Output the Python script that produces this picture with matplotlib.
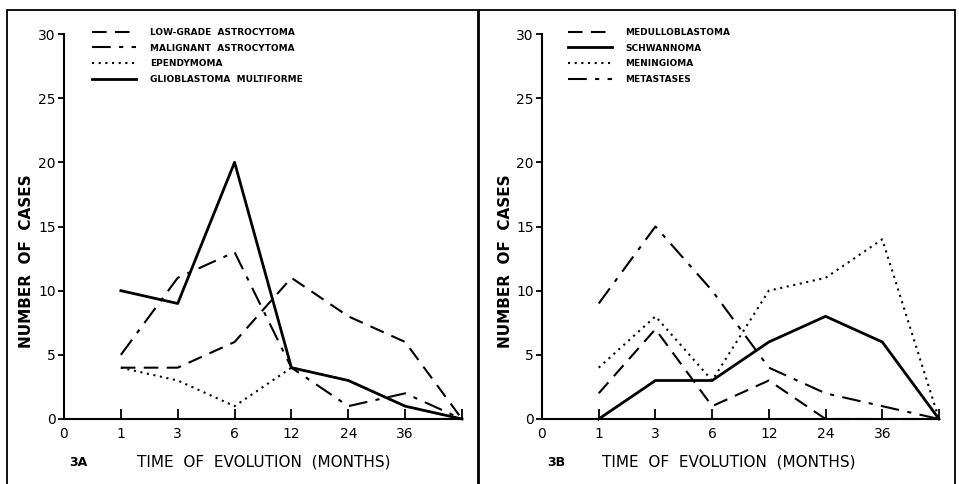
import matplotlib.pyplot as plt
from matplotlib.patches import Rectangle

# category positions on the x axis (last one unlabeled)
x_labels = ["0", "1", "3", "6", "12", "24", "36", ""]
x_pos = [1, 2, 3, 4, 5, 6, 7]

# panel 3A
low_grade = [4, 4, 6, 11, 8, 6, 0]
malignant = [5, 11, 13, 4, 1, 2, 0]
ependymoma = [4, 3, 1, 4, 3, 1, 0]
glioblastoma = [10, 9, 20, 4, 3, 1, 0]

# panel 3B
medulloblastoma = [2, 7, 1, 3, 0, 0, 0]
schwannoma = [0, 3, 3, 6, 8, 6, 0]
meningioma = [4, 8, 3, 10, 11, 14, 0]
metastases = [9, 15, 10, 4, 2, 1, 0]

W, H = 959, 484
fig = plt.figure(figsize=(W / 100, H / 100), dpi=100)
plt.rcParams["font.family"] = "DejaVu Sans"

DASH = (0, (7, 4))
DASHDOT = (0, (9, 4, 2, 4))
DOT = (0, (1, 2.2))


def px(x0, y0, x1, y1):
    return [x0 / W, 1 - y1 / H, (x1 - x0) / W, (y1 - y0) / H]


def panel(ax, series, tag, xlab_x, leg_x):
    for ys, ls, lw, lab in series:
        ax.plot(x_pos, ys, color="black", ls=ls, lw=lw, label=lab, clip_on=False)
    ax.set_xlim(0, 7)
    ax.set_ylim(0, 30)
    for s in ["top", "right"]:
        ax.spines[s].set_visible(False)
    for s in ["left", "bottom"]:
        ax.spines[s].set_linewidth(1.5)
    ax.set_xticks(range(8))
    ax.set_xticklabels(x_labels, fontsize=10)
    ax.set_yticks(range(0, 31, 5))
    ax.tick_params(axis="x", direction="in", length=7, width=1.3, pad=6)
    ax.tick_params(axis="y", direction="out", length=4, width=1.3, pad=2, labelsize=10)
    ax.patch.set_alpha(0)
    ax.legend(loc="upper left", bbox_to_anchor=(leg_x, 1.016), frameon=False,
              prop={"size": 6.5, "weight": "bold"}, handlelength=4.9,
              handletextpad=1.5, labelspacing=0.75, borderpad=0,
              borderaxespad=0)
    bb = ax.get_position()
    fig.text(xlab_x, 1 - 462 / H, "TIME  OF  EVOLUTION  (MONTHS)", fontsize=11,
             ha="center", va="center")
    fig.text(bb.x0 + 14 / W, 1 - 462 / H, tag, fontsize=9, weight="bold",
             ha="center", va="center")
    fig.text(bb.x0 - 37 / W, 1 - 261 / H, "NUMBER  OF  CASES", fontsize=11,
             weight="bold", rotation=90, ha="center", va="center")


ax1 = fig.add_axes(px(64, 34, 462, 419))
panel(ax1, [
    (low_grade, DASH, 1.5, "LOW-GRADE  ASTROCYTOMA"),
    (malignant, DASHDOT, 1.5, "MALIGNANT  ASTROCYTOMA"),
    (ependymoma, DOT, 1.5, "EPENDYMOMA"),
    (glioblastoma, "-", 2.0, "GLIOBLASTOMA  MULTIFORME"),
], "3A", 264 / W, 0.07)

ax2 = fig.add_axes(px(542, 34, 939, 419))
panel(ax2, [
    (medulloblastoma, DASH, 1.5, "MEDULLOBLASTOMA"),
    (schwannoma, "-", 2.0, "SCHWANNOMA"),
    (meningioma, DOT, 1.5, "MENINGIOMA"),
    (metastases, DASHDOT, 1.5, "METASTASES"),
], "3B", 729 / W, 0.065)

# panel frames like the scanned plate
for x0, x1 in [(7, 478), (479, 955)]:
    fig.patches.append(Rectangle((x0 / W, -0.01), (x1 - x0) / W, 1 - 10 / H + 0.01,
                                 transform=fig.transFigure, fill=False,
                                 lw=1.3, ec="black"))

fig.savefig("out.png", dpi=100)
